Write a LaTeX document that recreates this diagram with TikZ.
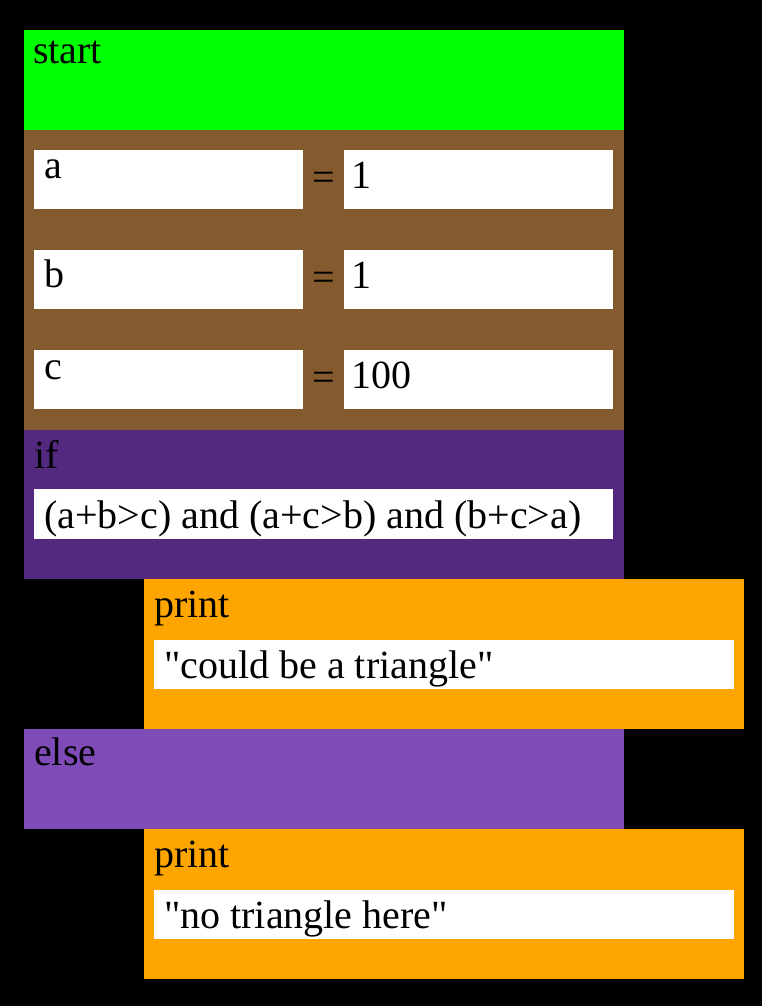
\documentclass[tikz,border=0pt]{standalone}
\usepackage{fontspec}
\setmainfont{Liberation Serif}
\usetikzlibrary{calc, positioning}

\definecolor{startgreen}{RGB}{0,255,0}
\definecolor{varbrown}{RGB}{131,91,46}
\definecolor{ifpurple}{RGB}{82,41,127}
\definecolor{elsepurple}{RGB}{126,75,183}
\definecolor{printorange}{RGB}{255,165,0}

\tikzset{
  blocktext/.style={anchor=base west, inner sep=0pt, font=\fontsize{40}{48}\selectfont},
  fieldbox/.style={fill=white},
}

\begin{document}
\begin{tikzpicture}[x=1pt,y=-1pt]
            \useasboundingbox (0,0) rectangle (762,1006);
            \fill[black] (0,0) rectangle (762,1006);

            % blocks
            \fill[startgreen]  (24,30)   rectangle (624,130);
            \fill[varbrown]    (24,130)  rectangle (624,430);
            \fill[ifpurple]    (24,430)  rectangle (624,579);
            \fill[printorange] (144,579) rectangle (744,729);
            \fill[elsepurple]  (24,729)  rectangle (624,829);
            \fill[printorange] (144,829) rectangle (744,979);

            % white fields
            \fill[fieldbox] (34,489)  rectangle (613,539);
            \fill[fieldbox] (154,640) rectangle (734,689);
            \fill[fieldbox] (154,890) rectangle (734,939);

        \foreach \v/\y/\n in
        {a/150/1,
         b/250/1,
         c/350/100
        }
        {
            \fill[fieldbox] (34,\y) rectangle (303,\y+59);
            \fill[fieldbox] (344,\y) rectangle (613,\y+59);
            \node[blocktext, anchor=north west] (var\v) at (44,\y+10) {\v};
            \node[blocktext, anchor=center] (eq\v) at (324,\y+31) {=};
            \node[blocktext] (val\v) at (351,\y+38) {\n};
        };

        \node[blocktext] (start) at (33,64) {start};
        \node[blocktext] (if) at (34,468) {if};
        \node[blocktext] (cond) at (44,528) {(a+b>c) and (a+c>b) and (b+c>a)};
        \node[blocktext] (printA) at (154,617) {print};
        \node[blocktext] (msgA) at (164,678) {\textquotedbl could be a triangle\textquotedbl};
        \node[blocktext] (else) at (34,765) {else};
        \node[blocktext] (printB) at (154,867) {print};
        \node[blocktext] (msgB) at (164,928) {\textquotedbl no triangle here\textquotedbl};
        \end{tikzpicture}
\end{document}
